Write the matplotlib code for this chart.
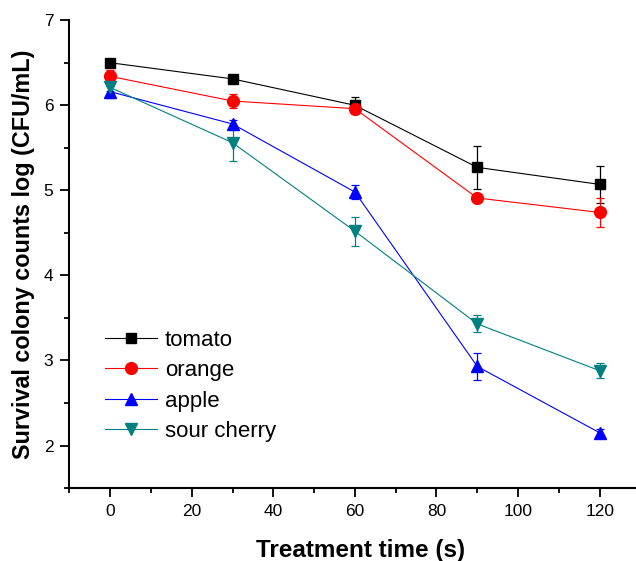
import numpy as np
import matplotlib.pyplot as plt
from matplotlib.ticker import MultipleLocator

plt.rcParams['font.family'] = ['Liberation Sans', 'DejaVu Sans']

# Treatment time (s)
time = [0, 30, 60, 90, 120]

# Survival counts, log (CFU/mL), with error bars
tomato = [6.50, 6.31, 6.00, 5.27, 5.07]
tomato_err = [0.03, 0.03, 0.10, 0.25, 0.22]
orange = [6.34, 6.05, 5.96, 4.91, 4.74]
orange_err = [0.08, 0.08, 0.04, 0.02, 0.17]
apple = [6.16, 5.78, 4.98, 2.93, 2.15]
apple_err = [0.07, 0.05, 0.08, 0.16, 0.05]
cherry = [6.21, 5.56, 4.52, 3.43, 2.88]
cherry_err = [0.04, 0.21, 0.17, 0.10, 0.09]

series = [
    ('tomato', tomato, tomato_err, 'black', 's', 7.5),
    ('orange', orange, orange_err, 'red', 'o', 8.5),
    ('apple', apple, apple_err, 'blue', '^', 9),
    ('sour cherry', cherry, cherry_err, '#008080', 'v', 9),
]

fig = plt.figure(figsize=(6.36, 5.61), dpi=100)
ax = fig.add_axes([0.109, 0.130, 0.898, 0.834])

handles = []
labels = []
for name, vals, err, col, mk, ms in series:
    c = ax.errorbar(time, vals, yerr=err, color=col, marker=mk, markersize=ms,
                    linewidth=0.8, elinewidth=0.9, capsize=3, capthick=0.9)
    handles.append(c[0])
    labels.append(name)

ax.set_xlim(-10, 130)
ax.set_ylim(1.5, 7)
ax.xaxis.set_major_locator(MultipleLocator(20))
ax.xaxis.set_minor_locator(MultipleLocator(10))
ax.yaxis.set_minor_locator(MultipleLocator(0.5))
ax.set_yticks([2, 3, 4, 5, 6, 7])

for side in ['top', 'right']:
    ax.spines[side].set_visible(False)
for side in ['left', 'bottom']:
    ax.spines[side].set_linewidth(1.5)

ax.tick_params(which='major', direction='out', length=6.5, width=1.3,
               labelsize=12.5, pad=5)
ax.tick_params(which='minor', direction='out', length=3.8, width=1.3)

ax.set_xlabel('Treatment time (s)', fontsize=17.5, fontweight='bold')
ax.set_ylabel('Survival colony counts log (CFU/mL)', fontsize=16.8,
              fontweight='bold', labelpad=6)
ax.xaxis.set_label_coords(0.51, -0.108)

ax.legend(handles, labels, loc='upper left', bbox_to_anchor=(0.062, 0.338),
          frameon=False, fontsize=16, handlelength=2.35, labelspacing=0.42,
          handletextpad=0.35, borderpad=0, borderaxespad=0)

fig.savefig('out.png', dpi=100)
